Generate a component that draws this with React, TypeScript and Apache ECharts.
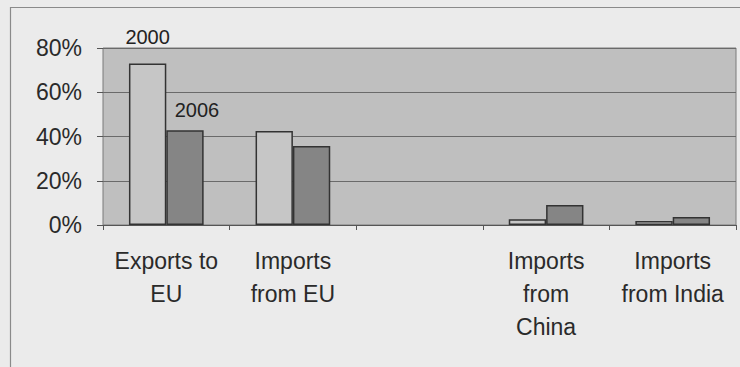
import React, { useEffect, useRef } from "react";
import * as echarts from "echarts";

const categories = ["Exports to\nEU", "Imports\nfrom EU", "", "Imports\nfrom\nChina", "Imports\nfrom India"];
const values2000 = [73, 42.5, null, 2.6, 1.8];
const values2006 = [42.8, 35.7, null, 9, 3.6];
const seriesNames = ["2000", "2006"];
const yTicks = [0, 20, 40, 60, 80];

export default function App() {
  const ref = useRef<HTMLDivElement>(null);
  useEffect(() => {
    document.body.style.margin = "0";
    const chart = echarts.init(ref.current!, null, { renderer: "svg" });
    const font = "'Liberation Sans', Arial, sans-serif";
    const labelFor = (name: string, offset: number[]) => ({
      show: true,
      position: "top",
      formatter: name,
      offset,
      fontFamily: font,
      fontSize: 20,
      color: "#222",
    });
    chart.setOption({
      animation: false,
      backgroundColor: "#ebebeb",
      textStyle: { fontFamily: font },
      graphic: [
        {
          type: "rect",
          shape: { x: 10.5, y: 7.5, width: 760, height: 380 },
          style: { fill: "none", stroke: "#8a8a8a", lineWidth: 1.2 },
          silent: true,
        },
      ],
      grid: {
        left: 103,
        right: 4,
        top: 48,
        bottom: 142,
        show: true,
        backgroundColor: "#bfbfbf",
        borderColor: "#7a7a7a",
        borderWidth: 1,
      },
      xAxis: {
        type: "category",
        data: categories,
        axisLine: { lineStyle: { color: "#555", width: 1.2 } },
        axisTick: { show: true, alignWithLabel: false, length: 5, lineStyle: { color: "#555" } },
        axisLabel: {
          interval: 0,
          fontSize: 23,
          lineHeight: 33,
          color: "#2a2a2a",
          margin: 19,
          fontFamily: font,
        },
      },
      yAxis: {
        type: "value",
        min: yTicks[0],
        max: yTicks[yTicks.length - 1],
        interval: 20,
        axisLine: { show: false },
        axisTick: { show: true, length: 6, lineStyle: { color: "#555" } },
        axisLabel: {
          formatter: "{value}%",
          fontSize: 23,
          color: "#2a2a2a",
          margin: 21,
          fontFamily: font,
        },
        splitLine: { lineStyle: { color: "#6a6a6a", width: 1 } },
      },
      series: [
        {
          name: seriesNames[0],
          type: "bar",
          barGap: "0%",
          barCategoryGap: "41%",
          itemStyle: { color: "#c6c6c6", borderColor: "#333", borderWidth: 1.5 },
          data: values2000.map((v, i) =>
            i === 0 ? { value: v, label: labelFor(seriesNames[0], [0, -11]) } : v
          ),
        },
        {
          name: seriesNames[1],
          type: "bar",
          itemStyle: { color: "#858585", borderColor: "#333", borderWidth: 1.5 },
          data: values2006.map((v, i) =>
            i === 0 ? { value: v, label: labelFor(seriesNames[1], [12, -5]) } : v
          ),
        },
      ],
    });
    return () => chart.dispose();
  }, []);
  return <div ref={ref} style={{ width: 740, height: 367 }} />;
}
